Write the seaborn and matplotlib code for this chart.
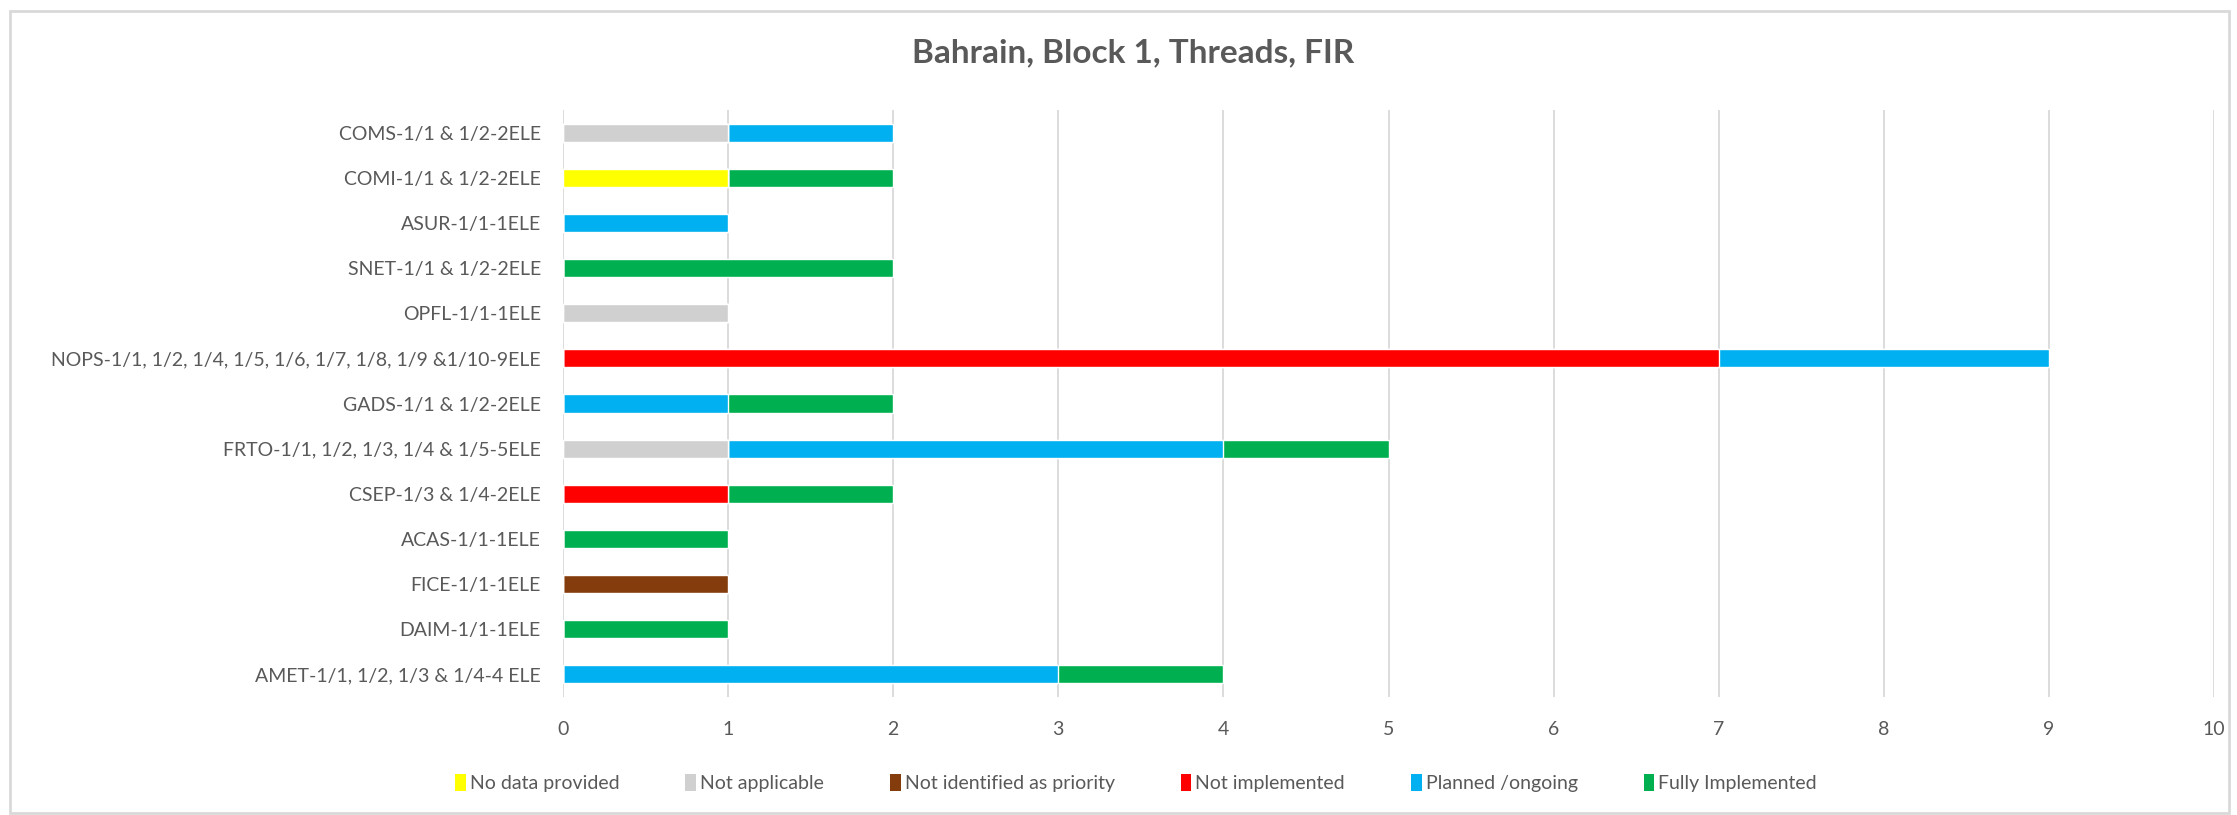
import matplotlib
matplotlib.use("Agg")
import matplotlib.pyplot as plt
from matplotlib.patches import Patch, Rectangle
import numpy as np
import seaborn as sns

# data, top row first
categories = [
    "COMS-1/1 & 1/2-2ELE",
    "COMI-1/1 & 1/2-2ELE",
    "ASUR-1/1-1ELE",
    "SNET-1/1 & 1/2-2ELE",
    "OPFL-1/1-1ELE",
    "NOPS-1/1, 1/2, 1/4, 1/5, 1/6, 1/7, 1/8, 1/9 &1/10-9ELE",
    "GADS-1/1 & 1/2-2ELE",
    "FRTO-1/1, 1/2, 1/3, 1/4 & 1/5-5ELE",
    "CSEP-1/3 & 1/4-2ELE",
    "ACAS-1/1-1ELE",
    "FICE-1/1-1ELE",
    "DAIM-1/1-1ELE",
    "AMET-1/1, 1/2, 1/3 & 1/4-4 ELE",
]
no_data = [0, 1, 0, 0, 0, 0, 0, 0, 0, 0, 0, 0, 0]
not_applicable = [1, 0, 0, 0, 1, 0, 0, 1, 0, 0, 0, 0, 0]
not_priority = [0, 0, 0, 0, 0, 0, 0, 0, 0, 0, 1, 0, 0]
not_implemented = [0, 0, 0, 0, 0, 7, 0, 0, 1, 0, 0, 0, 0]
planned = [1, 0, 1, 0, 0, 2, 1, 3, 0, 0, 0, 0, 3]
fully = [0, 1, 0, 2, 0, 0, 1, 1, 1, 1, 0, 1, 1]

series_names = ["No data provided", "Not applicable", "Not identified as priority",
                "Not implemented", "Planned /ongoing", "Fully Implemented"]
series_values = [no_data, not_applicable, not_priority, not_implemented, planned, fully]
colors = ["#FFFF00", "#D0D0D0", "#843C0C", "#FF0000", "#00B0F0", "#00B050"]

sns.set_theme(style="white")
plt.rcParams["font.family"] = ["Lato", "DejaVu Sans"]
text_col = "#595959"

W, H = 2237, 815
fig = plt.figure(figsize=(W / 100, H / 100), dpi=100)
ax = fig.add_axes([563 / W, 1 - 697 / H, (2214 - 563) / W, (697 - 110) / H])

# stacked bars: draw cumulative totals from the longest down
cum = np.cumsum(np.array(series_values), axis=0)
for i in range(len(series_names) - 1, -1, -1):
    sns.barplot(x=cum[i], y=categories, orient="h", color=colors[i],
                width=0.4, saturation=1, errorbar=None, ax=ax, zorder=2)

ax.set_xlim(0, 10)
ax.set_xticks(range(0, 11))
ax.grid(axis="x", color="#D9D9D9", linewidth=1.3, zorder=0)
ax.set_axisbelow(True)
for s in ax.spines.values():
    s.set_visible(False)
ax.set_xlabel("")
ax.set_ylabel("")
ax.tick_params(axis="both", length=0, labelsize=14, labelcolor=text_col)
ax.tick_params(axis="y", pad=16)
ax.tick_params(axis="x", pad=17)

fig.suptitle("Bahrain, Block 1, Threads, FIR", x=1133 / W, y=1 - 53 / H, va="center",
             fontsize=24, fontweight="bold", color=text_col)

handles = [Patch(facecolor=c, edgecolor="none") for c in colors]
leg = fig.legend(handles, series_names, loc="center", bbox_to_anchor=(1136 / W, 1 - 783 / H),
                 ncol=6, frameon=False, fontsize=14, handlelength=0.55, handleheight=1.0,
                 handletextpad=0.2, columnspacing=3.4)
for t in leg.get_texts():
    t.set_color(text_col)

# chart border
fig.patches.append(Rectangle((10 / W, 2 / H), (W - 18) / W, (H - 13) / H, transform=fig.transFigure,
                             fill=False, edgecolor="#D9D9D9", linewidth=2))

fig.savefig("out.png", dpi=100)
